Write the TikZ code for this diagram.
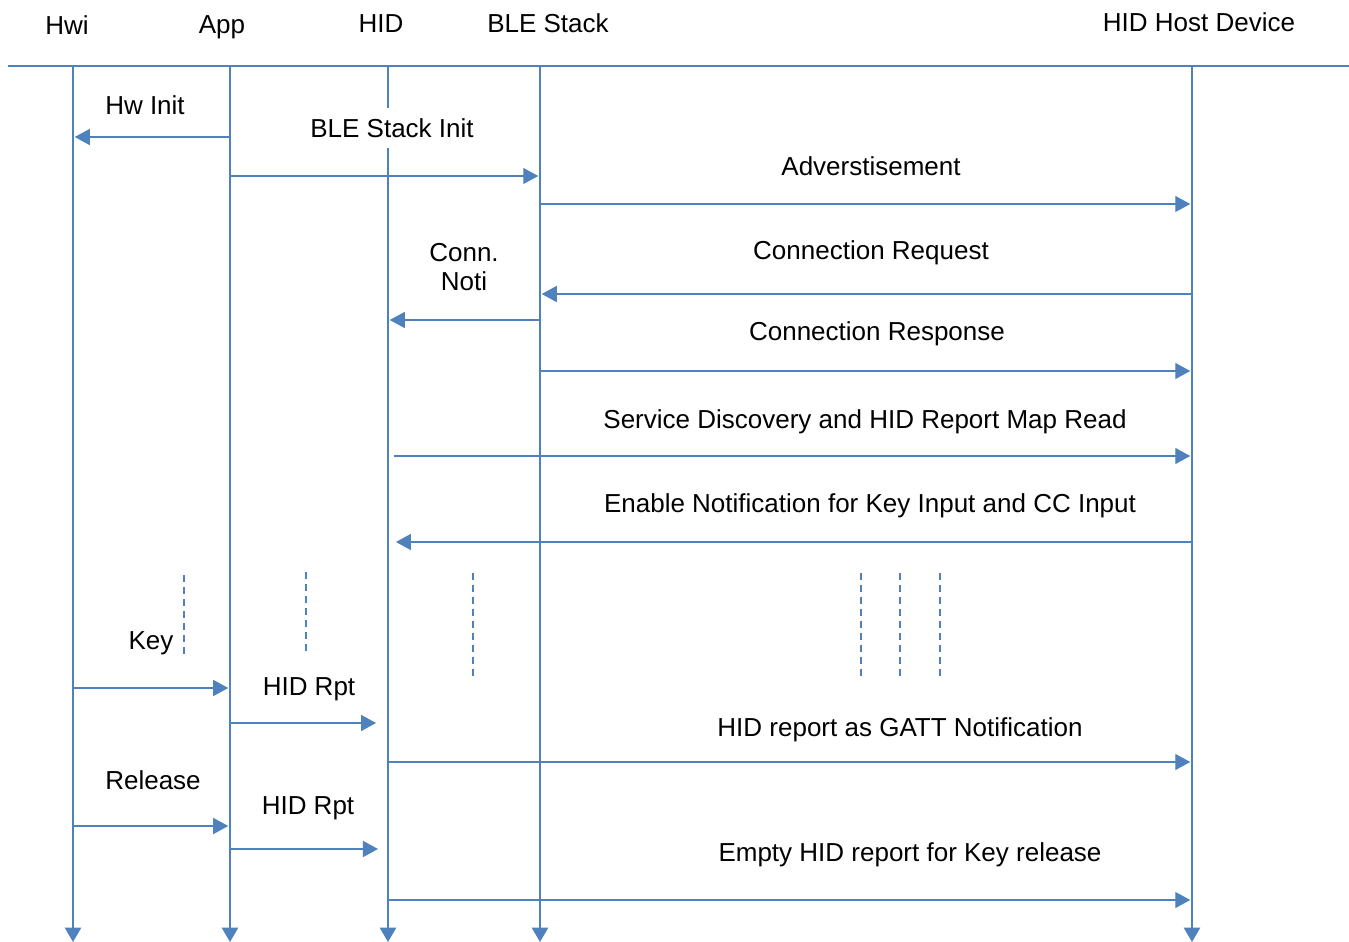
\documentclass[tikz,border=0pt]{standalone}
\usepackage{fontspec}
\setmainfont{Liberation Sans}
\usetikzlibrary{arrows.meta,positioning,calc}
\definecolor{lineblue}{RGB}{79,129,189}

\begin{document}
\begin{tikzpicture}[
    x=0.02cm, y=-0.02cm,
    every node/.style={font=\fontsize{14.8}{17}\selectfont, inner sep=2pt},
    life/.style={draw=lineblue, line width=0.8pt, -{Triangle[length=0.29cm,width=0.33cm]}},
    msg/.style={draw=lineblue, line width=0.8pt, -{Triangle[length=0.3cm,width=0.32cm]}},
    gap/.style={draw=lineblue, line width=0.8pt, dash pattern=on 0.14cm off 0.1cm}
]
\useasboundingbox (0,0) rectangle (1349,942);

% header
\node (hwiT)  at (67,25)   {Hwi};
\node (appT)  at (222,27)  {App};
\node (hidT)  at (381,24)  {HID};
\node (bleT)  at (548,23)  {BLE Stack};
\node (hostT) at (1199,22) {HID Host Device};
\coordinate (ruleL) at (8,66);
\coordinate (ruleR) at (1349,66);
\draw[lineblue, line width=0.8pt] (ruleL) -- (ruleR);

% lifelines
\foreach \n/\x in {hwi/73, app/230, hid/388, ble/540, host/1192} {
    \coordinate (\n) at (\x,66);
    \coordinate (\n B) at (\x,942);
    \draw[life] (\n) -- (\n B);
}

% init
\draw[msg, shorten >=1pt] (app |- 0,137) -- (hwi |- 0,137);
\node (hwinit) at (145,105) {Hw Init};
\draw[msg, shorten >=1pt] (app |- 0,176) -- (ble |- 0,176);
\node[fill=white, inner sep=6pt] (stackinit) at (392,128) {BLE Stack Init};

% connection
\draw[msg, shorten >=1pt] (ble |- 0,204) -- (host |- 0,204);
\node (adv) at (871,166) {Adverstisement};
\draw[msg, shorten >=1pt] (host |- 0,294) -- (ble |- 0,294);
\node (connreq) at (871,253) {Connection Request};
\draw[msg, shorten >=1pt] (ble |- 0,320) -- (hid |- 0,320);
\node[align=center] (connnoti) at (464,267) {Conn.\\[-1pt]Noti};
\draw[msg, shorten >=1pt] (ble |- 0,371) -- (host |- 0,371);
\node (connresp) at (877,334) {Connection Response};

% discovery
\draw[msg, shorten <=3.4pt, shorten >=1pt] (hid |- 0,456) -- (host |- 0,456);
\node (disc) at (865,422) {Service Discovery and HID Report Map Read};
\draw[msg, shorten >=4.5pt] (host |- 0,542) -- (hid |- 0,542);
\node (enable) at (870,506) {Enable Notification for Key Input and CC Input};

% idle
\foreach \x/\t/\b in {184/575/657, 306/572/655, 473/573/678, 861/573/678, 900/573/678, 940/573/678} {
    \draw[gap] (\x,\t) -- (\x,\b);
}

% key press
\draw[msg, shorten >=1pt] (hwi |- 0,688) -- (app |- 0,688);
\node (key) at (151,643) {Key};
\draw[msg, shorten >=6.8pt] (app |- 0,723) -- (hid |- 0,723);
\node (rpt1) at (309,689) {HID Rpt};
\draw[msg, shorten >=1pt] (hid |- 0,762) -- (host |- 0,762);
\node (gatt) at (900,730) {HID report as GATT Notification};

% key release
\draw[msg, shorten >=1pt] (hwi |- 0,826) -- (app |- 0,826);
\node (release) at (153,780) {Release};
\draw[msg, shorten >=5.7pt] (app |- 0,849) -- (hid |- 0,849);
\node (rpt2) at (308,808) {HID Rpt};
\draw[msg, shorten >=1pt] (hid |- 0,900) -- (host |- 0,900);
\node (empty) at (910,855) {Empty HID report for Key release};
\end{tikzpicture}
\end{document}
